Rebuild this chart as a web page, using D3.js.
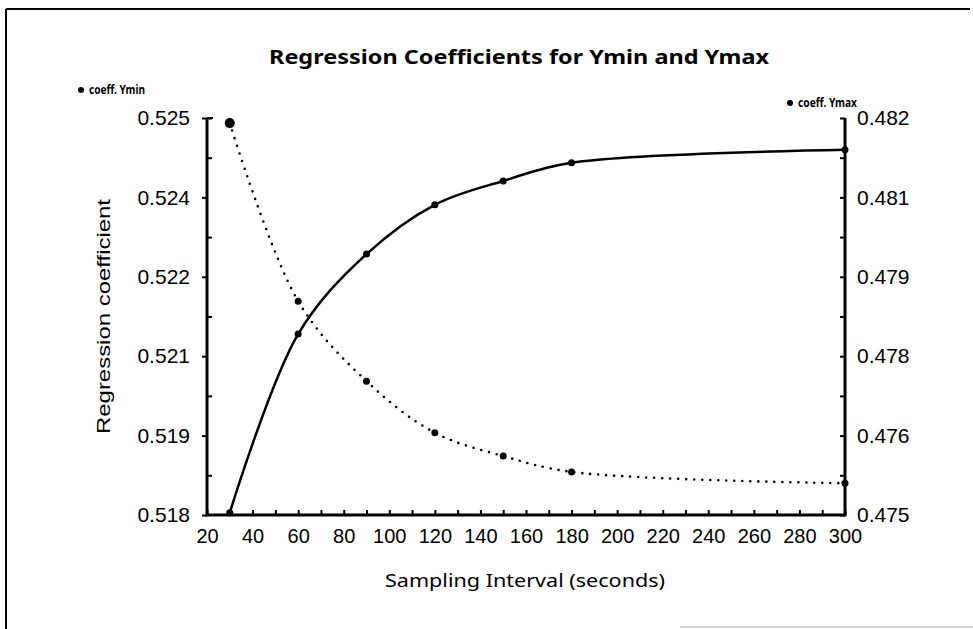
<!DOCTYPE html>
<html>
<head>
<meta charset="utf-8">
<script src="https://cdn.jsdelivr.net/npm/d3@7"></script>
<style>
  body { margin: 0; background: #fff; }
  svg { display: block; }
  .axis path, .axis line { stroke: #000; }
  .axis text { fill: #000; }
</style>
</head>
<body>
<script>
(function(){

//chart data
var intervals = [30, 60, 90, 120, 150, 180, 300]; //sampling interval (seconds)
var coeffYmin = [0.51804, 0.52119, 0.52260, 0.52347, 0.52389, 0.52421, 0.52444]; //left axis, solid
var coeffYmax = [0.48191, 0.47877, 0.47736, 0.47645, 0.47604, 0.47576, 0.47556]; //right axis, dotted

//tick values and labels
var xTicks = [20, 40, 60, 80, 100, 120, 140, 160, 180, 200, 220, 240, 260, 280, 300];
var xMinorTicks = [20, 30, 40, 50, 60, 70, 80, 90, 100, 110, 120, 130, 140, 150, 160, 170, 180, 190, 200, 210, 220, 230, 240, 250, 260, 270, 280, 290, 300];
var leftTicks = [0.518, 0.5194, 0.5208, 0.5222, 0.5236, 0.525];
var leftTickLabels = ["0.518", "0.519", "0.521", "0.522", "0.524", "0.525"];
var leftMinorTicks = [0.5187, 0.5201, 0.5215, 0.5229, 0.5243, 0.525];
var rightTicks = [0.475, 0.4764, 0.4778, 0.4792, 0.4806, 0.482];
var rightTickLabels = ["0.475", "0.476", "0.478", "0.479", "0.481", "0.482"];
var rightMinorTicks = [0.4757, 0.4771, 0.4785, 0.4799, 0.4813];

var width = 973, height = 629;
var left = 207, right = 845, top = 118, bottom = 515;

var svg = d3.select("body").append("svg")
    .attr("width", width)
    .attr("height", height);

//page frame (top and left edges visible in the scan)
svg.append("line").attr("x1", 6).attr("x2", 970).attr("y1", 9).attr("y2", 9)
    .attr("stroke", "#000").attr("stroke-width", 2);
svg.append("line").attr("x1", 6).attr("x2", 6).attr("y1", 9).attr("y2", 629)
    .attr("stroke", "#000").attr("stroke-width", 2);
svg.append("line").attr("x1", 680).attr("x2", 973).attr("y1", 627).attr("y2", 627)
    .attr("stroke", "#ccc").attr("stroke-width", 1.5);

//scales
var x = d3.scaleLinear().domain([20, 300]).range([left, right]);
var yL = d3.scaleLinear().domain([0.518, 0.525]).range([bottom, top]);
var yR = d3.scaleLinear().domain([0.475, 0.482]).range([bottom, top]);

//left axis: labelled ticks outward, minor ticks inward
var leftAxis = svg.append("g").attr("class", "axis")
    .attr("transform", "translate(" + left + ",0)")
    .call(d3.axisLeft(yL).tickValues(leftTicks).tickSize(5).tickSizeOuter(0).tickPadding(12)
        .tickFormat(function(d, i){ return leftTickLabels[i]; }));
leftAxis.select(".domain").remove();
leftAxis.selectAll("line").attr("stroke-width", 2);
leftAxis.selectAll("text").style("font-family", "'Liberation Sans', Arial, sans-serif").style("font-size", "21px");

var leftMinor = svg.append("g").attr("class", "axis")
    .attr("transform", "translate(" + left + ",0)")
    .call(d3.axisRight(yL).tickValues(leftMinorTicks).tickSize(5).tickFormat(""));
leftMinor.select(".domain").remove();
leftMinor.selectAll("line").attr("stroke-width", 2);

//right axis: all ticks inward, labels outside
var rightAxis = svg.append("g").attr("class", "axis")
    .attr("transform", "translate(" + right + ",0)")
    .call(d3.axisLeft(yR).tickValues(rightTicks.concat(rightMinorTicks)).tickSize(5).tickFormat(""));
rightAxis.select(".domain").remove();
rightAxis.selectAll("line").attr("stroke-width", 2);

var rightLabels = svg.append("g").attr("class", "axis")
    .attr("transform", "translate(" + right + ",0)")
    .call(d3.axisRight(yR).tickValues(rightTicks).tickSize(0).tickPadding(12)
        .tickFormat(function(d, i){ return rightTickLabels[i]; }));
rightLabels.select(".domain").remove();
rightLabels.selectAll("text").style("font-family", "'Liberation Sans', Arial, sans-serif").style("font-size", "21px");

//bottom axis: ticks every 10 pointing up, labels every 20
var bottomTicks = svg.append("g").attr("class", "axis")
    .attr("transform", "translate(0," + bottom + ")")
    .call(d3.axisTop(x).tickValues(xMinorTicks).tickSize(5).tickFormat(""));
bottomTicks.select(".domain").remove();
bottomTicks.selectAll("line").attr("stroke-width", 2);

var bottomLabels = svg.append("g").attr("class", "axis")
    .attr("transform", "translate(0," + bottom + ")")
    .call(d3.axisBottom(x).tickValues(xTicks).tickSize(0).tickPadding(14).tickFormat(d3.format("d")));
bottomLabels.select(".domain").remove();
bottomLabels.selectAll("text").style("font-family", "'Liberation Sans', Arial, sans-serif").style("font-size", "20px");

//axis lines
svg.append("path")
    .attr("d", "M" + left + "," + top + "V" + bottom + "H" + right + "V" + top)
    .attr("fill", "none").attr("stroke", "#000").attr("stroke-width", 3);
svg.append("path")
    .attr("d", "M" + left + "," + top + "h6")
    .attr("stroke", "#000").attr("stroke-width", 2);

//series
var pointsMin = intervals.map(function(d, i){ return [d, coeffYmin[i]]; });
var pointsMax = intervals.map(function(d, i){ return [d, coeffYmax[i]]; });

var lineMin = d3.line().curve(d3.curveCatmullRom.alpha(0.5))
    .x(function(d){ return x(d[0]); })
    .y(function(d){ return yL(d[1]); });
var lineMax = d3.line().curve(d3.curveCatmullRom.alpha(0.5))
    .x(function(d){ return x(d[0]); })
    .y(function(d){ return yR(d[1]); });

svg.append("path").datum(pointsMin)
    .attr("d", lineMin)
    .attr("fill", "none").attr("stroke", "#000").attr("stroke-width", 2.5);

svg.append("path").datum(pointsMax)
    .attr("d", lineMax)
    .attr("fill", "none").attr("stroke", "#000").attr("stroke-width", 2.6)
    .attr("stroke-linecap", "round").attr("stroke-dasharray", "0,8");

svg.selectAll(".ptMin").data(pointsMin).enter().append("circle")
    .attr("class", "ptMin")
    .attr("cx", function(d){ return x(d[0]); })
    .attr("cy", function(d){ return yL(d[1]); })
    .attr("r", 3.5).attr("fill", "#000");

svg.selectAll(".ptMax").data(pointsMax).enter().append("circle")
    .attr("class", "ptMax")
    .attr("cx", function(d){ return x(d[0]); })
    .attr("cy", function(d){ return yR(d[1]); })
    .attr("r", function(d, i){ return i === 0 ? 5 : 3.5; })
    .attr("fill", "#000");

//title
svg.append("text")
    .attr("x", 519).attr("y", 64)
    .attr("text-anchor", "middle")
    .attr("textLength", 500).attr("lengthAdjust", "spacingAndGlyphs")
    .style("font-family", "'Noto Sans', sans-serif").style("font-weight", 700).style("font-size", "20px")
    .text("Regression Coefficients for Ymin and Ymax");

//legend labels
svg.append("circle").attr("cx", 81).attr("cy", 90).attr("r", 3).attr("fill", "#000");
svg.append("text").attr("x", 89).attr("y", 94)
    .attr("textLength", 56).attr("lengthAdjust", "spacingAndGlyphs")
    .style("font-family", "'Noto Sans', sans-serif").style("font-weight", 700).style("font-size", "12px")
    .text("coeff. Ymin");
svg.append("circle").attr("cx", 790).attr("cy", 103).attr("r", 3).attr("fill", "#000");
svg.append("text").attr("x", 798).attr("y", 107)
    .attr("textLength", 59).attr("lengthAdjust", "spacingAndGlyphs")
    .style("font-family", "'Noto Sans', sans-serif").style("font-weight", 700).style("font-size", "12px")
    .text("coeff. Ymax");

//axis titles
svg.append("text")
    .attr("x", 525).attr("y", 587)
    .attr("text-anchor", "middle")
    .attr("textLength", 280).attr("lengthAdjust", "spacingAndGlyphs")
    .style("font-family", "'Noto Sans', sans-serif").style("font-size", "18px")
    .text("Sampling Interval (seconds)");

svg.append("text")
    .attr("transform", "translate(110," + ((top + bottom) / 2) + ") rotate(-90)")
    .attr("text-anchor", "middle")
    .attr("textLength", 235).attr("lengthAdjust", "spacingAndGlyphs")
    .style("font-family", "'Liberation Sans', Arial, sans-serif").style("font-size", "19px")
    .text("Regression coefficient");

})();
</script>
</body>
</html>
